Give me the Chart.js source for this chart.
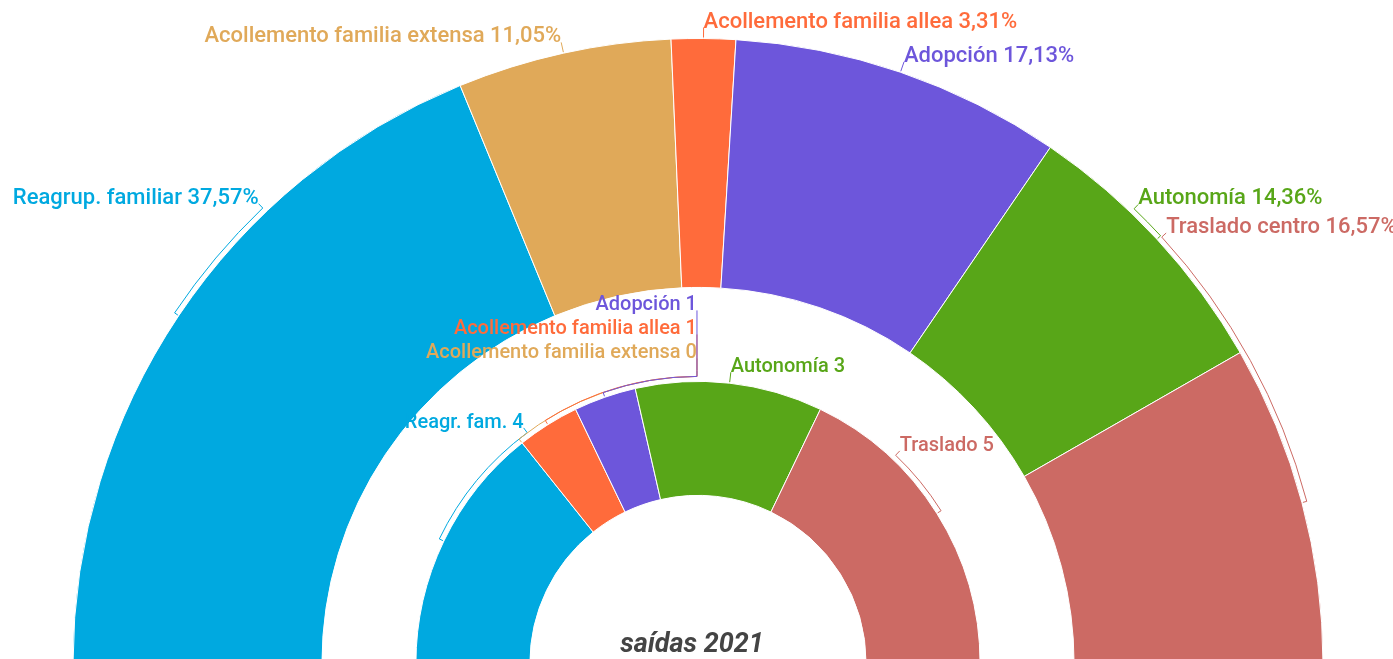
<!DOCTYPE html>
<html>
<head>
<meta charset="utf-8">
<title>saídas 2021</title>
<script src="https://cdn.jsdelivr.net/npm/chart.js@4/dist/chart.umd.min.js"></script>
<style>
  html, body { margin: 0; padding: 0; background: #fff; overflow: hidden; }
  #wrap { position: relative; width: 1393px; height: 664px; }
</style>
</head>
<body>
<div id="wrap"><canvas id="chart"></canvas></div>
<script>
/* ============================================================
   DATA
   ============================================================ */

const outerLabels = ['Reagrup. familiar', 'Acollemento familia extensa', 'Acollemento familia allea', 'Adopción', 'Autonomía', 'Traslado centro'];
const outerValues = [37.57, 11.05, 3.31, 17.13, 14.36, 16.57];

const innerLabels = ['Reagr. fam.', 'Acollemento familia extensa', 'Acollemento familia allea', 'Adopción', 'Autonomía', 'Traslado'];
const innerValues = [4, 0, 1, 1, 3, 5];

const centerTitle = 'saídas 2021';

/* ============================================================
   STYLE / LABEL LAYOUT
   ============================================================ */

const COLORS = ['#00a9e0', '#e0a959', '#ff6b3b', '#6d56db', '#58a618', '#cc6a64'];

// where a label is pushed to: angle in degrees (0 = right, 90 = top), rise = extra lift in px
const OUTER_LAYOUT = [{ angle: 133.7 }, {}, {}, {}, { angle: 46.2 }, { angle: 42.6 }];
const INNER_LAYOUT = [{ angle: 126.5 }, { angle: 90.2, rise: 12 }, { angle: 90.2, rise: 36 }, { angle: 90.2, rise: 60 }, {}, { angle: 46.5 }];

const fmtPct = v => v.toFixed(2).replace('.', ',') + '%';

/* ============================================================
   LABEL PLUGIN (brackets + leader lines)
   ============================================================ */

function drawRingLabels(ctx, meta, texts, layout) {
  meta.data.forEach((arc, i) => {
    const { x, y, startAngle, endAngle, outerRadius } =
      arc.getProps(['x', 'y', 'startAngle', 'endAngle', 'outerRadius'], true);
    const mid    = (startAngle + endAngle) / 2;
    const lay    = layout[i] || {};
    const target = lay.angle != null ? -lay.angle * Math.PI / 180 : mid;
    const rb     = outerRadius + 5;
    const rt     = outerRadius + 11;
    const color  = COLORS[i];

    let tx = x + rt * Math.cos(target);
    let ty = y + rt * Math.sin(target);

    ctx.strokeStyle = color;
    ctx.beginPath();
    ctx.moveTo(x + (outerRadius + 1) * Math.cos(mid), y + (outerRadius + 1) * Math.sin(mid));
    if (target !== mid) {
      ctx.lineTo(x + rb * Math.cos(mid), y + rb * Math.sin(mid));
      ctx.arc(x, y, rb, mid, target, target < mid);
    }
    ctx.lineTo(tx, ty);
    if (lay.rise) { ty -= lay.rise; ctx.lineTo(tx, ty); }
    ctx.stroke();

    const deg = -target * 180 / Math.PI;
    ctx.fillStyle    = color;
    ctx.textAlign    = deg > 90 ? 'right' : 'left';
    ctx.textBaseline = 'alphabetic';
    ctx.fillText(texts[i], tx, ty);
  });
}

const sliceLabels = {
  id: 'sliceLabels',
  afterDatasetsDraw(chart) {
    const ctx = chart.ctx;
    ctx.save();
    ctx.lineWidth = 1;
    ctx.font = '500 22px Roboto';
    drawRingLabels(ctx, chart.getDatasetMeta(0), outerLabels.map((l, i) => `${l} ${fmtPct(outerValues[i])}`), OUTER_LAYOUT);
    ctx.font = '500 20px Roboto';
    drawRingLabels(ctx, chart.getDatasetMeta(2), innerLabels.map((l, i) => `${l} ${innerValues[i]}`), INNER_LAYOUT);

    const c = chart.getDatasetMeta(0).data[0];
    ctx.font         = 'italic bold 27px Roboto';
    ctx.fillStyle    = '#444444';
    ctx.textAlign    = 'center';
    ctx.textBaseline = 'alphabetic';
    ctx.fillText(centerTitle, c.x - 6, c.y - 12);
    ctx.restore();
  },
};

/* ============================================================
   CHART
   ============================================================ */

new Chart(document.getElementById('chart'), {
  type: 'doughnut',
  data: {
    labels: outerLabels,
    datasets: [
      { data: outerValues, backgroundColor: COLORS, borderColor: '#ffffff', borderWidth: 1, weight: 249 },
      { data: [1], backgroundColor: 'rgba(0,0,0,0)', borderWidth: 0, weight: 94 },
      { data: innerValues, backgroundColor: COLORS, borderColor: '#ffffff', borderWidth: 1, weight: 114 },
    ],
  },
  options: {
    responsive: true,
    maintainAspectRatio: false,
    animation: false,
    events: [],
    rotation: -90,
    circumference: 180,
    cutout: '26.9%',
    layout: { padding: { top: 38, left: 3, right: 0, bottom: 0 } },
    plugins: { legend: { display: false }, tooltip: { enabled: false } },
  },
  plugins: [sliceLabels],
});
</script>
</body>
</html>
